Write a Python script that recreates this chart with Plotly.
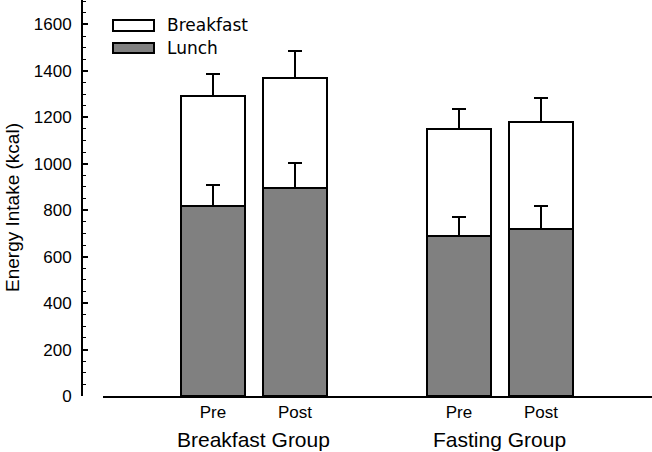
import plotly.graph_objects as go

# Data
x_pos = [1, 2, 4, 5]
tick_labels = ["Pre", "Post", "Pre", "Post"]
group_labels = ["Breakfast Group", "Fasting Group"]
group_centers = [1.5, 4.5]
lunch = [819, 897, 690, 717]
lunch_err = [89, 105, 80, 100]
breakfast = [472, 471, 459, 461]
total_err = [95, 117, 85, 105]
zeros = [0, 0, 0, 0]

W, H = 652, 452
ML, MB = 82, 56
PW, PH = W - ML, H - MB

fig = go.Figure()
fig.add_trace(go.Bar(
    x=x_pos, y=lunch, name="Lunch", width=0.785,
    marker=dict(color="#808080", line=dict(color="black", width=2)),
    error_y=dict(type="data", symmetric=False, array=lunch_err, arrayminus=zeros,
                 color="black", thickness=2, width=7),
))
fig.add_trace(go.Bar(
    x=x_pos, y=breakfast, name="Breakfast", width=0.785,
    marker=dict(color="rgba(255,255,255,0)", line=dict(color="black", width=2)),
    error_y=dict(type="data", symmetric=False, array=total_err, arrayminus=zeros,
                 color="black", thickness=2, width=7),
))

def px_x(p):
    return (p - ML) / PW

def px_y(p):
    return (PH - p) / PH

# Manual legend
shapes = [
    dict(type="rect", xref="paper", yref="paper", x0=px_x(113), x1=px_x(154),
         y0=px_y(31), y1=px_y(20), fillcolor="white", line=dict(color="black", width=2)),
    dict(type="rect", xref="paper", yref="paper", x0=px_x(113), x1=px_x(154),
         y0=px_y(53), y1=px_y(43), fillcolor="#808080", line=dict(color="black", width=2)),
]
annotations = [
    dict(text="Breakfast", xref="paper", yref="paper", x=px_x(165), y=px_y(25),
         xanchor="left", yanchor="middle", showarrow=False,
         font=dict(family="DejaVu Sans", size=17, color="black")),
    dict(text="Lunch", xref="paper", yref="paper", x=px_x(165), y=px_y(48),
         xanchor="left", yanchor="middle", showarrow=False,
         font=dict(family="DejaVu Sans", size=17, color="black")),
    dict(text="Energy Intake (kcal)", xref="paper", yref="paper", x=px_x(12), y=px_y(208),
         xanchor="center", yanchor="middle", textangle=-90, showarrow=False,
         font=dict(family="Liberation Sans, Arial", size=19, color="black")),
]
for lbl, c in zip(group_labels, group_centers):
    annotations.append(dict(text=lbl, x=c, xref="x", y=px_y(439), yref="paper",
                            xanchor="center", yanchor="middle", showarrow=False,
                            font=dict(family="Liberation Sans, Arial", size=21, color="black")))

fig.update_layout(
    width=W, height=H,
    margin=dict(l=ML, r=0, t=0, b=MB, pad=0),
    paper_bgcolor="white", plot_bgcolor="white",
    barmode="stack", showlegend=False,
    font=dict(family="Liberation Sans, Arial", size=17, color="black"),
    shapes=shapes, annotations=annotations,
    xaxis=dict(
        domain=[px_x(103), 1], range=[-0.341, 6.354],
        tickmode="array", tickvals=x_pos, ticktext=tick_labels,
        showline=True, linecolor="black", linewidth=2, ticks="",
        showgrid=False, zeroline=False, fixedrange=True,
        tickfont=dict(size=17),
    ),
    yaxis=dict(
        anchor="free", position=0, range=[0, 1705],
        tickmode="linear", tick0=0, dtick=200,
        showline=True, linecolor="black", linewidth=2,
        ticks="inside", ticklen=5, tickwidth=2, tickcolor="black",
        minor=dict(ticks="inside", ticklen=3, tickwidth=1, dtick=50, tickcolor="black", showgrid=False),
        showgrid=False, zeroline=False, tickfont=dict(size=17),
        ticklabelstandoff=6, fixedrange=True,
    ),
)
fig.write_html("out.html", config={"displayModeBar": False, "staticPlot": True},
               post_script="document.body.style.margin='0';document.body.style.padding='0';")
